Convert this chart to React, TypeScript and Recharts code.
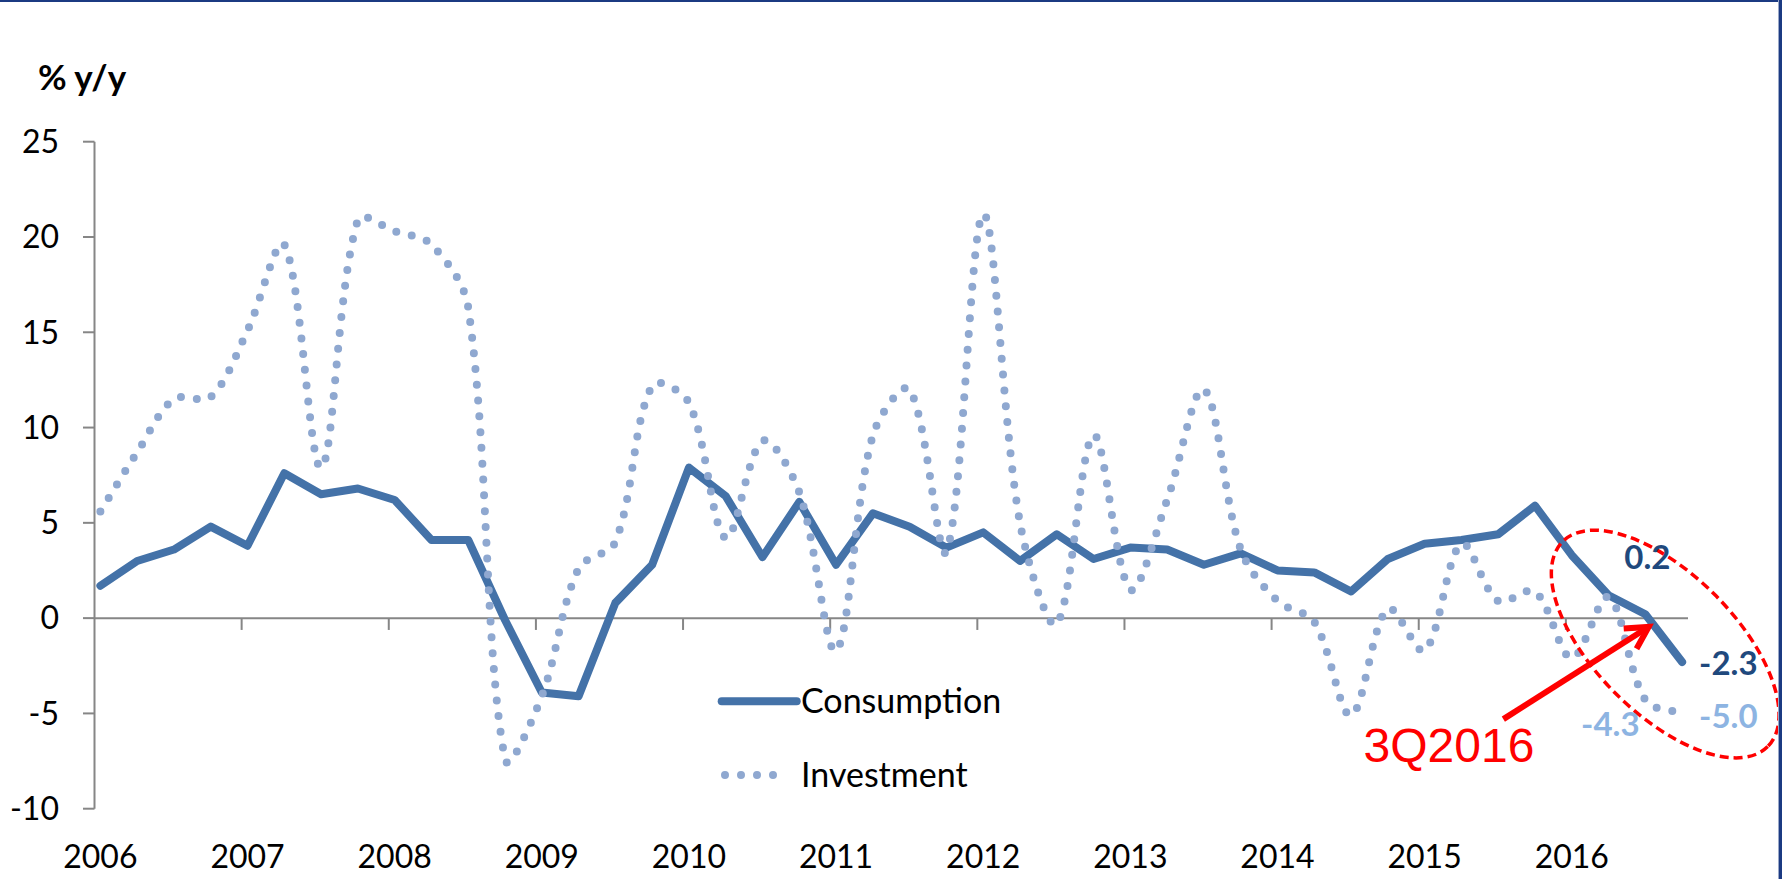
import React from "react";
import {
  LineChart, Line, XAxis, YAxis, ReferenceLine, ReferenceDot, Legend, LabelList,
} from "recharts";

const QUARTERS = [
  "1Q2006", "2Q2006", "3Q2006", "4Q2006", "1Q2007", "2Q2007", "3Q2007", "4Q2007",
  "1Q2008", "2Q2008", "3Q2008", "4Q2008", "1Q2009", "2Q2009", "3Q2009", "4Q2009",
  "1Q2010", "2Q2010", "3Q2010", "4Q2010", "1Q2011", "2Q2011", "3Q2011", "4Q2011",
  "1Q2012", "2Q2012", "3Q2012", "4Q2012", "1Q2013", "2Q2013", "3Q2013", "4Q2013",
  "1Q2014", "2Q2014", "3Q2014", "4Q2014", "1Q2015", "2Q2015", "3Q2015", "4Q2015",
  "1Q2016", "2Q2016", "3Q2016", "4Q2016",
];

const YEARS = ["2006", "2007", "2008", "2009", "2010", "2011", "2012", "2013", "2014", "2015", "2016"];

const CONSUMPTION = [
  1.7, 3.0, 3.6, 4.8, 3.8, 7.6, 6.5, 6.8,
  6.2, 4.1, 4.1, -0.1, -3.9, -4.1, 0.8, 2.8,
  7.9, 6.4, 3.2, 6.1, 2.8, 5.5, 4.8, 3.7,
  4.5, 3.0, 4.4, 3.1, 3.7, 3.6, 2.8, 3.4,
  2.5, 2.4, 1.4, 3.1, 3.9, 4.1, 4.4, 5.9,
  3.3, 1.2, 0.2, -2.3,
];

const INVESTMENT = [
  5.6, 8.7, 11.5, 11.6, 15.1, 19.6, 7.9, 20.9,
  20.3, 19.6, 16.3, -7.4, -4.1, 2.6, 4.0, 12.2,
  11.3, 4.2, 9.3, 6.6, -1.7, 9.6, 12.0, 3.5,
  21.2, 5.0, -0.3, 9.6, 1.5, 6.2, 12.0, 3.6,
  0.9, -0.2, -5.1, 0.5, -1.7, 3.9, 0.9, 1.4,
  -2.1, 1.1, -4.3, -5.0,
];

const Y_TICKS = [-10, -5, 0, 5, 10, 15, 20, 25];

const CALLOUT = "3Q2016";

const CONS_COLOR = "#4472A8";
const INV_COLOR = "#8FA8D0";
const FONT = "Lato, 'Open Sans', sans-serif";

const data = QUARTERS.map((q, i) => ({
  q,
  i,
  consumption: CONSUMPTION[i],
  investment: INVESTMENT[i],
}));

const X_DOMAIN: [number, number] = [-0.16, QUARTERS.length - 1 + 0.16];
const yearTicks = YEARS.map((_, k) => k * 4);
const yearBoundaries = YEARS.slice(1).map((_, k) => (k + 1) * 4 - 0.16);
const calloutIdx = QUARTERS.indexOf(CALLOUT);

// Excel-like smoothed line: Catmull-Rom with tangents weighted by chord length
function smoothCurve(context: any) {
  let pts: number[][] = [];
  const dist = (a: number[], b: number[]) => Math.hypot(b[0] - a[0], b[1] - a[1]);
  return {
    areaStart() {},
    areaEnd() {},
    lineStart() { pts = []; },
    point(x: number, y: number) { pts.push([+x, +y]); },
    lineEnd() {
      const n = pts.length;
      if (!n) return;
      context.moveTo(pts[0][0], pts[0][1]);
      for (let k = 0; k < n - 1; k++) {
        const p0 = pts[Math.max(k - 1, 0)];
        const p1 = pts[k];
        const p2 = pts[k + 1];
        const p3 = pts[Math.min(k + 2, n - 1)];
        const dPrev = dist(p0, p1);
        const dCur = dist(p1, p2);
        const dNext = dist(p2, p3);
        const s1 = dPrev + dCur > 0 ? dCur / (dPrev + dCur) / 3 : 0;
        const s2 = dCur + dNext > 0 ? dCur / (dCur + dNext) / 3 : 0;
        context.bezierCurveTo(
          p1[0] + (p2[0] - p0[0]) * s1, p1[1] + (p2[1] - p0[1]) * s1,
          p2[0] - (p3[0] - p1[0]) * s2, p2[1] - (p3[1] - p1[1]) * s2,
          p2[0], p2[1],
        );
      }
    },
  };
}

const YearTick = (p: any) => (
  <text x={p.x} y={p.y} textAnchor="middle" fontSize={32} fontFamily={FONT} fill="#000">
    {YEARS[p.payload.value / 4]}
  </text>
);

const pos = (p: any) => ({ x: p.viewBox?.x ?? p.x, y: p.viewBox?.y ?? p.y });

const consLabel = (p: any) => {
  if (p.index < calloutIdx) return null;
  const { x, y } = pos(p);
  const last = p.index === QUARTERS.length - 1;
  return (
    <text
      x={last ? x + 17 : x + 2}
      y={last ? y + 13.5 : y - 45}
      textAnchor={last ? "start" : "middle"}
      fontSize={33} fontWeight="bold" fontFamily={FONT} fill="#1F497D"
    >
      {Number(p.value).toFixed(1)}
    </text>
  );
};

const invLabel = (p: any) => {
  if (p.index < calloutIdx) return null;
  const { x, y } = pos(p);
  const last = p.index === QUARTERS.length - 1;
  return (
    <text
      x={last ? x + 17 : x - 35}
      y={last ? y + 15 : y + 36}
      textAnchor={last ? "start" : "middle"}
      fontSize={33} fontWeight="bold" fontFamily={FONT} fill="#8DB4E2"
    >
      {Number(p.value).toFixed(1)}
    </text>
  );
};

const Arrow = (p: any) => {
  const { x1, y1, x2, y2 } = p;
  const ang = Math.atan2(y2 - y1, x2 - x1);
  const len = 25;
  const spread = 0.5;
  const a = [x2 - len * Math.cos(ang - spread), y2 - len * Math.sin(ang - spread)];
  const b = [x2 - len * Math.cos(ang + spread), y2 - len * Math.sin(ang + spread)];
  return (
    <g>
      <line x1={x1} y1={y1} x2={x2 - 3 * Math.cos(ang)} y2={y2 - 3 * Math.sin(ang)} stroke="#FF0000" strokeWidth={6} />
      <polyline points={`${a[0]},${a[1]} ${x2},${y2} ${b[0]},${b[1]}`} fill="none" stroke="#FF0000" strokeWidth={6} />
    </g>
  );
};

const LegendContent = () => (
  <svg width={340} height={130}>
    <line x1={6.7} x2={81.7} y1={31.3} y2={31.3} stroke={CONS_COLOR} strokeWidth={8} strokeLinecap="round" />
    <text x={86} y={42.7} fontSize={34} fontFamily={FONT} fill="#000">Consumption</text>
    <line x1={10} x2={74} y1={105} y2={105} stroke={INV_COLOR} strokeWidth={8} strokeDasharray="0 16" strokeLinecap="round" />
    <text x={86} y={116.7} fontSize={34} fontFamily={FONT} fill="#000">Investment</text>
  </svg>
);

export default function App() {
  return (
    <div style={{ position: "absolute", left: 0, top: 0, width: 1782, height: 879, background: "#fff", overflow: "hidden" }}>
      <LineChart width={1782} height={879} data={data} margin={{ top: 141.7, right: 94, bottom: 0, left: 0 }}>
        <XAxis
          dataKey="i" type="number" domain={X_DOMAIN} ticks={yearTicks} interval={0}
          axisLine={false} tickLine={false} tickSize={0} tickMargin={59.6} height={70.3}
          tick={YearTick}
        />
        <YAxis
          domain={[-10, 25]} ticks={Y_TICKS} interval={0} width={94.5}
          axisLine={{ stroke: "#868686", strokeWidth: 2 }}
          tickLine={{ stroke: "#868686", strokeWidth: 2 }}
          tickSize={11.5} tickMargin={24}
          tick={{ fill: "#000", fontSize: 32, fontFamily: FONT }}
        />
        <ReferenceLine y={0} stroke="#868686" strokeWidth={2} />
        {yearBoundaries.map((t) => (
          <ReferenceLine key={t} segment={[{ x: t, y: 0 }, { x: t, y: -0.62 }]} stroke="#868686" strokeWidth={2} />
        ))}
        <Line
          dataKey="consumption" type="linear" stroke={CONS_COLOR} strokeWidth={8}
          strokeLinejoin="round" strokeLinecap="round"
          dot={false} activeDot={false} isAnimationActive={false}
        >
          <LabelList dataKey="consumption" content={consLabel} />
        </Line>
        <Line
          dataKey="investment" type={smoothCurve as any} stroke={INV_COLOR} strokeWidth={8}
          strokeDasharray="0 15.8" strokeLinecap="round"
          dot={false} activeDot={false} isAnimationActive={false}
        >
          <LabelList dataKey="investment" content={invLabel} />
        </Line>
        <ReferenceDot
          x={calloutIdx + 0.54} y={-1.36} r={1}
          shape={(p: any) => (
            <ellipse
              cx={p.cx} cy={p.cy} rx={145} ry={70}
              transform={`rotate(45 ${p.cx} ${p.cy})`}
              fill="none" stroke="#FF0000" strokeWidth={3.5} strokeDasharray="9 5"
            />
          )}
        />
        <ReferenceLine
          segment={[{ x: calloutIdx - 3.86, y: -5.3 }, { x: calloutIdx + 0.09, y: CONSUMPTION[calloutIdx] - 0.66 }]}
          shape={Arrow}
        />
        <ReferenceDot
          x={calloutIdx - 7.66} y={-7.54} r={1}
          shape={(p: any) => (
            <text x={p.cx} y={p.cy} fontSize={48} fontFamily="'Liberation Sans', Arial, sans-serif" fill="#FF0000">
              {CALLOUT}
            </text>
          )}
        />
        <Legend
          layout="vertical" align="center" verticalAlign="middle"
          wrapperStyle={{ left: 715, top: 670, width: 340, height: 130 }}
          content={LegendContent}
        />
      </LineChart>
      <svg style={{ position: "absolute", left: 0, top: 0 }} width={300} height={120}>
        <text x={38} y={89.5} fontSize={35} fontWeight="bold" fontFamily={FONT} fill="#000">% y/y</text>
      </svg>
      <div style={{ position: "absolute", left: 0, top: 0, width: 1782, height: 2, background: "#1B3A82" }} />
      <div style={{ position: "absolute", left: 1778, top: 0, width: 1, height: 879, background: "#9AA8C8" }} />
      <div style={{ position: "absolute", left: 1779, top: 0, width: 3, height: 879, background: "#1B3A82" }} />
    </div>
  );
}
